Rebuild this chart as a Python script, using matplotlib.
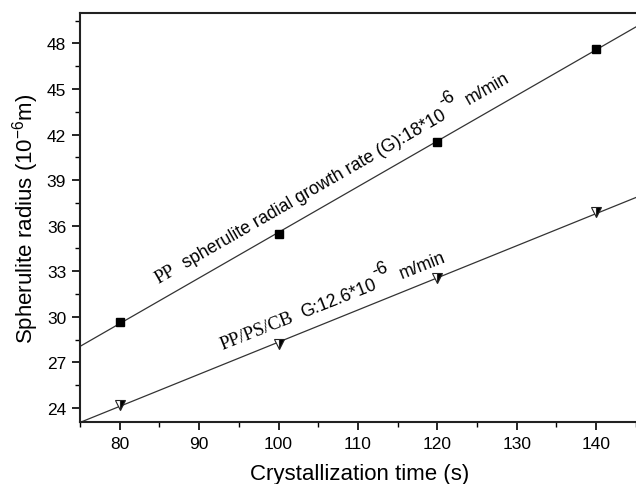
import numpy as np
import matplotlib
matplotlib.use("Agg")
import matplotlib.pyplot as plt
from matplotlib.ticker import MultipleLocator

# ---- data ----
time_s = [80, 100, 120, 140]
pp_radius = [29.65, 35.45, 41.52, 47.65]
blend_radius = [24.22, 28.19, 32.53, 36.87]
x_ticks = [80, 90, 100, 110, 120, 130, 140]
y_ticks = [24, 27, 30, 33, 36, 39, 42, 45, 48]

W, H = 636, 485
fig = plt.figure(figsize=(W / 100, H / 100), dpi=100)
ax = fig.add_axes([80 / W, 1 - 423 / H, (639 - 80) / W, (423 - 14) / H])

sans = "Liberation Sans"
serif = "Liberation Serif"

xfit = np.array([75, 146])
for ys, mk, kw in [
    (pp_radius, "s", dict(markerfacecolor="black", markeredgecolor="black", markersize=6)),
    (blend_radius, "v", dict(markerfacecolor="black", markerfacecoloralt="white",
                             fillstyle="right", markeredgecolor="#222222",
                             markeredgewidth=0.8, markersize=7.5)),
]:
    p = np.polyfit(time_s, ys, 1)
    ax.plot(xfit, np.polyval(p, xfit), color="#333333", lw=0.9, zorder=2)
    ax.plot(time_s, ys, linestyle="none", marker=mk, zorder=3, **kw)

ax.set_xlim(75, 145.4)
ax.set_ylim(23.08, 50.0)
ax.set_xticks(x_ticks)
ax.set_yticks(y_ticks)
ax.xaxis.set_minor_locator(MultipleLocator(5))
ax.yaxis.set_minor_locator(MultipleLocator(1.5))
ax.tick_params(which="major", direction="out", length=6, width=1.2, labelsize=12.5, pad=4)
ax.tick_params(which="minor", direction="out", length=3.5, width=1.0)
ax.tick_params(top=False, right=False, which="both")
for lab in ax.get_xticklabels() + ax.get_yticklabels():
    lab.set_family(sans)
for s in ["left", "bottom", "top"]:
    ax.spines[s].set_linewidth(1.5)
    ax.spines[s].set_color("#222222")
ax.spines["right"].set_visible(False)

ax.set_xlabel("Crystallization time (s)", fontsize=16, family=sans, labelpad=9)
ax.set_ylabel(r"Spherulite radius (10$^{\mathregular{-6}}$m)", fontsize=16, family=sans, labelpad=4)

renderer = fig.canvas.get_renderer()


def width_of(s, family, size):
    t = fig.text(0, 0, s, family=family, fontsize=size)
    w = t.get_window_extent(renderer).width
    t.remove()
    return w


def chain(start, angle, pieces):
    a = np.radians(angle)
    ux, uy = np.cos(a), np.sin(a)
    px, py = -np.sin(a), np.cos(a)
    x0, y0 = start[0], H - start[1]
    adv = 0.0
    for s, fam, size, rise, gap in pieces:
        adv += gap
        x = x0 + adv * ux + rise * px
        y = y0 + adv * uy + rise * py
        fig.text(x / W, y / H, s, family=fam, fontsize=size, rotation=angle,
                 rotation_mode="anchor", ha="left", va="baseline", color="black")
        adv += width_of(s, fam, size)


def line_angle(ys):
    p = np.polyfit(time_s, ys, 1)
    pts = ax.transData.transform([[80, np.polyval(p, 80)], [140, np.polyval(p, 140)]])
    d = pts[1] - pts[0]
    return np.degrees(np.arctan2(d[1], d[0]))


ang1 = line_angle(pp_radius)
chain((158, 284), ang1, [
    ("PP", serif, 13.5, 0, 0),
    ("spherulite radial growth rate (G):18*10", sans, 12.8, 0, 11),
    ("-6", sans, 12.8, 12, 1),
    ("m/min", sans, 12.8, 0, 9),
])

ang2 = line_angle(blend_radius) - 0.5
chain((222, 350), ang2, [
    ("PP/PS/CB", serif, 13.5, 0, 0),
    ("G:12.6*10", sans, 12.8, 0, 10),
    ("-6", sans, 12.8, 12, 1),
    ("m/min", sans, 12.8, 0, 9),
])

fig.savefig("out.png", dpi=100)
